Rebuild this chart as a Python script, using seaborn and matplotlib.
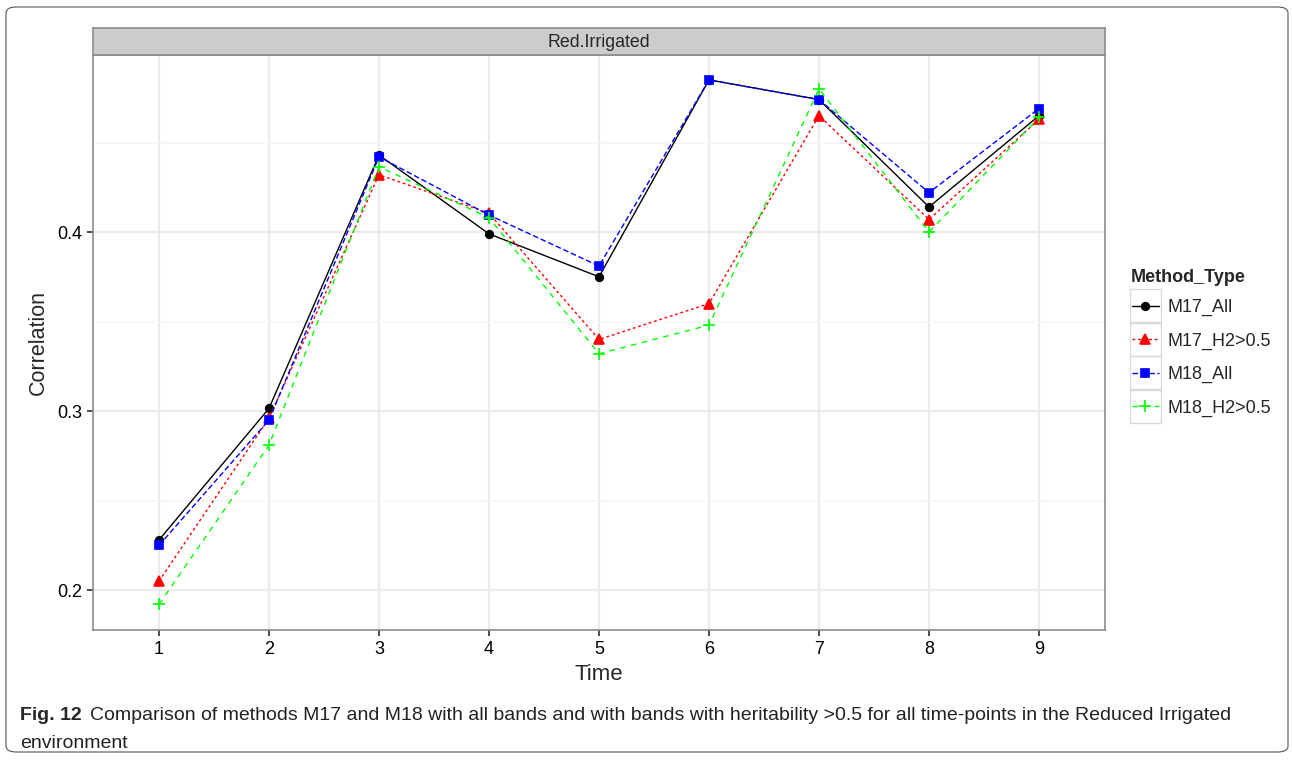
import numpy as np
import pandas as pd
import matplotlib
matplotlib.use("Agg")
import matplotlib.pyplot as plt
import seaborn as sns
from matplotlib.patches import FancyBboxPatch, Rectangle

# 数据：各时间点四种方法的相关系数
times = [1, 2, 3, 4, 5, 6, 7, 8, 9]
m17_all = [0.228, 0.3015, 0.443, 0.399, 0.375, 0.485, 0.474, 0.414, 0.465]
m17_h2 = [0.205, 0.296, 0.432, 0.4105, 0.340, 0.360, 0.465, 0.407, 0.463]
m18_all = [0.225, 0.295, 0.442, 0.4095, 0.381, 0.485, 0.474, 0.422, 0.469]
m18_h2 = [0.192, 0.281, 0.4365, 0.408, 0.332, 0.348, 0.480, 0.400, 0.464]
methods = ["M17_All", "M17_H2>0.5", "M18_All", "M18_H2>0.5"]
y_ticks = [0.2, 0.3, 0.4]

df = pd.DataFrame({
    "Time": times * 4,
    "Correlation": m17_all + m17_h2 + m18_all + m18_h2,
    "Method_Type": sum([[m] * len(times) for m in methods], []),
})

sns.set_theme(style="white")
plt.rcParams["font.family"] = ["Liberation Sans", "DejaVu Sans"]

fig = plt.figure(figsize=(12.92, 7.6), dpi=100)
ax = fig.add_axes([93 / 1292, 1 - 630 / 760, (1105 - 93) / 1292, (630 - 55) / 760])

palette = {"M17_All": "black", "M17_H2>0.5": "#FF0000", "M18_All": "#0000FF", "M18_H2>0.5": "#00FF00"}
markers = {"M17_All": "o", "M17_H2>0.5": "^", "M18_All": "s", "M18_H2>0.5": "+"}
msizes = {"M17_All": 5.5, "M17_H2>0.5": 6.5, "M18_All": 6.0, "M18_H2>0.5": 8.5}
dashes = {"M17_All": "-", "M17_H2>0.5": (0, (2, 2)), "M18_All": (0, (4, 2)), "M18_H2>0.5": (0, (4, 4))}

# 每种方法单独画一条线（混合填充/线型标记需分开绘制）
for m in methods:
    sub = df[df["Method_Type"] == m]
    sns.lineplot(data=sub, x="Time", y="Correlation", color=palette[m], marker=markers[m],
                 linestyle=dashes[m], linewidth=1.0, markersize=msizes[m],
                 markeredgewidth=1.2, markeredgecolor=palette[m], label=m, ax=ax)

# 坐标轴范围与网格（仿 ggplot theme_bw）
ax.set_xlim(0.4, 9.6)
ax.set_ylim(0.1777, 0.4989)
ax.set_xticks(times)
ax.set_yticks(y_ticks)
ax.set_yticks([0.25, 0.35, 0.45], minor=True)
ax.grid(True, which="major", color="#EBEBEB", linewidth=1.6)
ax.grid(True, which="minor", axis="y", color="#F5F5F5", linewidth=1.2)
ax.set_axisbelow(True)
for s in ax.spines.values():
    s.set_color("#8C8C8C")
    s.set_linewidth(1.2)
ax.tick_params(axis="both", which="major", length=4, color="#333333", labelsize=13,
               labelcolor="black", bottom=True, left=True, pad=4)
ax.tick_params(axis="y", which="minor", length=0)
ax.set_xlabel("Time", fontsize=16, labelpad=4)
ax.set_ylabel("Correlation", fontsize=15.5, labelpad=6)

# 分面条
strip = fig.add_axes([93 / 1292, 1 - 55 / 760, (1105 - 93) / 1292, 27 / 760])
strip.set_facecolor("#CCCCCC")
strip.set_xticks([])
strip.set_yticks([])
for s in strip.spines.values():
    s.set_color("#8C8C8C")
    s.set_linewidth(1.2)
strip.text(0.5, 0.45, "Red.Irrigated", ha="center", va="center", fontsize=12.8)

# 图例（标题单独写，便于控制间距）
handles, labels = ax.get_legend_handles_labels()
ax.get_legend().remove()
leg = fig.legend(handles, labels, loc="upper left",
                 bbox_to_anchor=(1115.5 / 1292, 1 - 283 / 760), frameon=False,
                 fontsize=13, handlelength=1.5, handletextpad=0.5, labelspacing=0.9,
                 alignment="left")
fig.text(1131 / 1292, 1 - 278 / 760, "Method_Type", fontsize=13, fontweight="bold",
         ha="left", va="center")

fig.canvas.draw()
renderer = fig.canvas.get_renderer()
for h in leg.legend_handles:
    bb = h.get_window_extent(renderer)
    cx = (bb.x0 + bb.x1) / 2
    cy = (bb.y0 + bb.y1) / 2
    w, hgt = 31, 33
    fig.patches.append(Rectangle(((cx - w / 2) / 1292, (cy - hgt / 2) / 760), w / 1292, hgt / 760,
                                 transform=fig.transFigure, facecolor="white",
                                 edgecolor="#D9D9D9", linewidth=1.0, zorder=-1))

# 外框与图注
fig.patches.append(FancyBboxPatch((6 / 1292, 8 / 760), 1282 / 1292, 745 / 760,
                                  boxstyle="round,pad=0,rounding_size=0.008",
                                  transform=fig.transFigure, facecolor="none",
                                  edgecolor="#555555", linewidth=0.8))
t_fig = fig.text(20 / 1292, 1 - 716 / 760, "Fig. 12", fontsize=14, fontweight="bold",
                 va="center", ha="left")
fig.canvas.draw()
x_end = t_fig.get_window_extent(renderer).x1
fig.text((x_end + 8) / 1292, 1 - 716 / 760,
         "Comparison of methods M17 and M18 with all bands and with bands with heritability >0.5 "
         "for all time-points in the Reduced Irrigated",
         fontsize=14, va="center", ha="left", color="#222222")
fig.text(20 / 1292, 1 - 743 / 760, "environment", fontsize=14, va="center", ha="left",
         color="#222222")

fig.savefig("out.png", dpi=100)
